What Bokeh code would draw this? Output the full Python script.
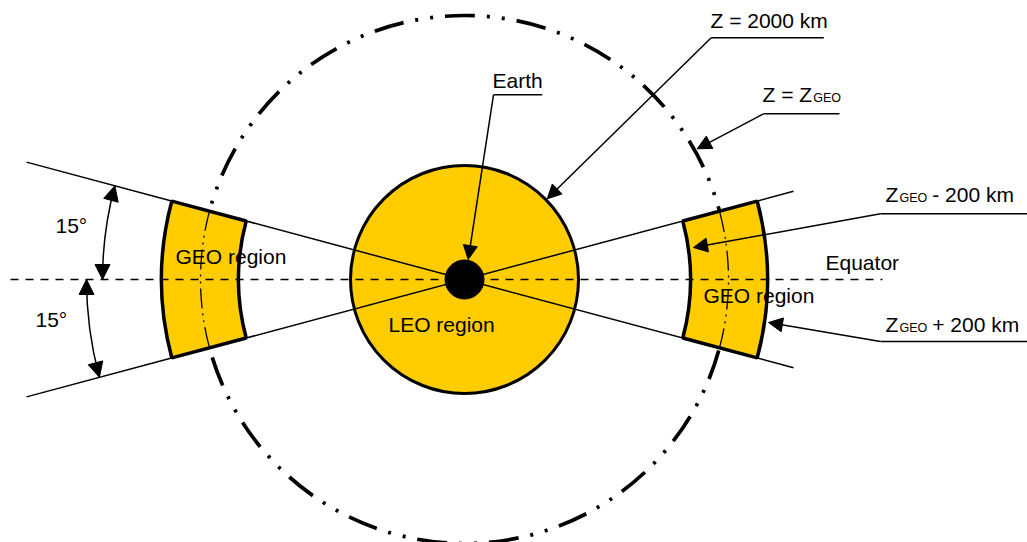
import numpy as np
from bokeh.plotting import figure
from bokeh.models import Range1d, Arrow, NormalHead
from bokeh.core.properties import value
from bokeh.embed import file_html
from bokeh.resources import INLINE

# ---- diagram values (pixel units, origin at the Earth centre) ----
EARTH_R = 19.5
LEO_R = 114
GEO_R = 264
GEO_BAND = [226, 303]          # inner / outer radius of the GEO region
HALF_ANGLE = 15                # degrees above / below the equator
ANGLE_ARC_R = [362, 378]       # radii of the two 15° arrows
RAY_X = [-438, 329]
EQUATOR_X = [-454, 418]

MAIN_TEXT = ["GEO region", "GEO region", "LEO region", "Equator", "15°", "15°",
             "Earth", "Z = 2000 km", "Z = Z", "Z", "- 200 km", "Z", "+ 200 km"]
SUB_TEXT = ["GEO", "GEO", "GEO"]

YELLOW = "#FFCC00"
FONT = value("Liberation Sans")

p = figure(width=1027, height=542, x_range=Range1d(-464, 563), y_range=Range1d(-263, 279),
           output_backend="svg", toolbar_location=None, min_border=0)
p.axis.visible = False
p.grid.visible = False
p.outline_line_color = None
p.background_fill_color = "white"
p.border_fill_color = "white"

rad = np.radians
ha = rad(HALF_ANGLE)

# GEO orbit (thick dash-dot-dot)
p.circle(x=[0], y=[0], radius=GEO_R, fill_color=None, line_color="black",
         line_width=3.7, line_dash="30 12 3 12 3 12")

# LEO region
p.circle(x=[0], y=[0], radius=LEO_R, fill_color=YELLOW, line_color="black", line_width=3)

# +-15 degree rays
t = np.tan(ha)
p.line(x=RAY_X, y=[-RAY_X[0] * t, -RAY_X[1] * t], line_color="black", line_width=1.5)
p.line(x=RAY_X, y=[RAY_X[0] * t, RAY_X[1] * t], line_color="black", line_width=1.5)

# GEO regions
p.annular_wedge(x=[0, 0], y=[0, 0], inner_radius=GEO_BAND[0], outer_radius=GEO_BAND[1],
                start_angle=[-ha, np.pi - ha], end_angle=[ha, np.pi + ha],
                fill_color=YELLOW, line_color="black", line_width=3.5)
# thin orbit through the GEO regions
p.arc(x=[0, 0], y=[0, 0], radius=GEO_R, start_angle=[-ha, np.pi - ha], end_angle=[ha, np.pi + ha],
      line_color="black", line_width=1.3, line_dash="20 5 2 5 2 5")

# Equator
p.line(x=EQUATOR_X, y=[0, 0], line_color="black", line_width=1.5, line_dash="8 7")

# Earth
p.circle(x=[0], y=[0], radius=EARTH_R, fill_color="black", line_color="black")

# 15 degree angle arrows
def head():
    return NormalHead(size=15, fill_color="black", line_color="black", line_width=1)

eps = 6.0
r1, r2 = ANGLE_ARC_R
p.arc(x=0, y=0, radius=r1, start_angle=np.pi - ha, end_angle=np.pi, line_color="black", line_width=1.5)
p.arc(x=0, y=0, radius=r2, start_angle=np.pi, end_angle=np.pi + ha, line_color="black", line_width=1.5)

def tip_arrow(r, th, sign):
    # tip on circle radius r at angle th; sign=+1 moving anticlockwise, -1 clockwise
    x, y = r * np.cos(th), r * np.sin(th)
    tx, ty = -np.sin(th) * sign, np.cos(th) * sign
    p.add_layout(Arrow(end=head(), x_start=x - eps * tx, y_start=y - eps * ty, x_end=x, y_end=y,
                       line_alpha=0, line_width=1))

tip_arrow(r1, np.pi - ha, -1)
tip_arrow(r1, np.pi, 1)
tip_arrow(r2, np.pi, -1)
tip_arrow(r2, np.pi + ha, 1)

# leaders
LEADERS = [
    # (horizontal x0, x1, y), arrow tip
    ((29, 77.7, 184.7), (3.7, 20.0)),
    ((246.7, 359.3, 241.7), (82.7, 80.7)),
    ((299, 375, 165.7), (232.7, 130.7)),
    ((416, 563, 65.7), (229.0, 32.0)),
    ((416, 563, -62.0), (304.0, -43.0)),
]
for (x0, x1, y), (tx, ty) in LEADERS:
    p.line(x=[x0, x1], y=[y, y], line_color="black", line_width=1.5)
    p.add_layout(Arrow(end=NormalHead(size=14, fill_color="black", line_color="black", line_width=1),
                       x_start=x0, y_start=y, x_end=tx, y_end=ty,
                       line_color="black", line_width=1.5))

# texts
TEXT_DY = 8   # compensates the renderer's baseline placement
MAIN_X = [-289, 239, -76, 361, -409, -429, 28, 246, 298, 421, 467.7, 421, 467.7]
MAIN_Y = [15, -24, -53, 9, 46, -48, 190.7, 251, 177.3, 77, 77, -53, -53]
p.text(x=MAIN_X, y=[v + TEXT_DY for v in MAIN_Y], text=MAIN_TEXT, text_font=FONT,
       text_font_size="21px", text_color="black", text_align="left", text_baseline="alphabetic")
SUB_X = [348.7, 435, 435]
SUB_Y = [175.8, 75.5, -54.5]
p.text(x=SUB_X, y=[v + TEXT_DY - 2 for v in SUB_Y], text=SUB_TEXT, text_font=FONT,
       text_font_size="12.5px", text_color="black", text_align="left", text_baseline="alphabetic")

open("out.html", "w", encoding="utf-8").write(file_html(p, INLINE))
